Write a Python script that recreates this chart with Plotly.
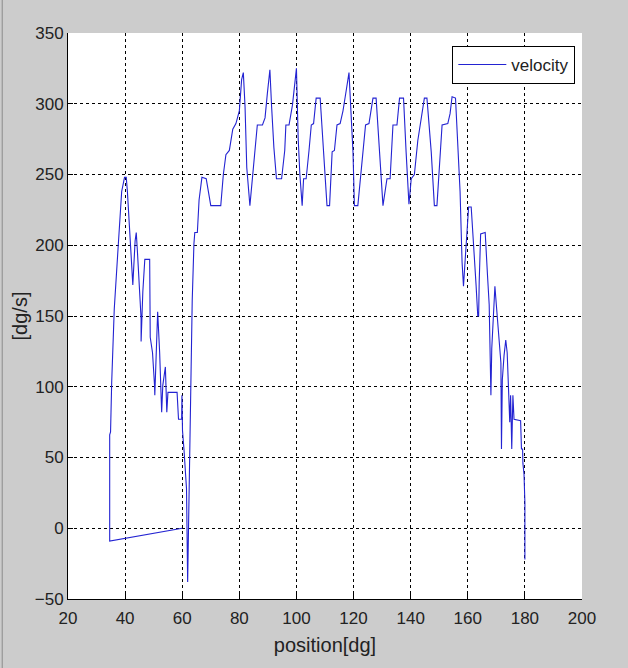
import plotly.graph_objects as go

position = [60.0, 34.6, 34.6, 34.9, 35.3, 36.2, 37.6, 38.8, 39.8, 40.4, 40.8, 41.8, 42.4, 42.7,
            43.5, 43.9, 44.3, 45.0, 45.6, 45.6, 46.2, 46.9, 48.6, 48.8, 49.6, 50.3, 50.4, 51.4,
            52.1, 52.8, 53.2, 54.1, 54.6, 55.0, 58.2, 58.7, 59.8, 59.9, 60.1, 60.6, 61.0, 61.3,
            61.5, 61.9, 62.3, 62.9, 63.5, 64.1, 64.4, 65.3, 65.9, 66.9, 68.4, 70.0, 73.5, 74.4,
            75.3, 76.5, 77.7, 78.8, 80.0, 80.8, 81.4, 82.0, 82.6, 83.7, 84.3, 85.5, 86.3, 88.1,
            89.0, 89.8, 90.7, 91.3, 92.1, 93.0, 94.8, 95.9, 96.3, 97.4, 98.6, 100.0, 100.6, 101.2,
            102.0, 102.5, 103.4, 104.4, 105.2, 106.0, 106.9, 108.3, 109.3, 110.7, 111.6, 112.5,
            113.3, 114.2, 115.3, 116.3, 117.4, 118.4, 119.8, 120.3, 121.5, 123.3, 124.2, 125.4,
            126.8, 127.9, 129.1, 130.3, 131.7, 132.8, 133.8, 135.2, 136.1, 137.5, 138.4, 139.4,
            140.2, 141.3, 142.5, 144.8, 145.7, 147.2, 148.3, 149.2, 151.0, 153.0, 153.8, 154.5,
            155.7, 156.5, 157.3, 158.0, 158.5, 158.9, 159.4, 160.0, 160.3, 161.2, 161.7, 162.3,
            162.9, 163.5, 163.8, 164.0, 164.5, 166.1, 166.3, 166.9, 167.5, 167.7, 168.1, 168.4,
            168.9, 169.5, 170.0, 170.7, 171.6, 171.8, 172.1, 172.7, 173.3, 173.8, 174.2, 174.7,
            175.0, 175.4, 175.8, 176.2, 178.5, 178.8, 179.2, 179.3, 179.7, 180.0, 180.0]

velocity = [0, -9, 66, 68, 103, 155, 200, 238, 248, 248, 238, 200, 177, 172,
            203, 209, 196, 170, 148, 132, 167, 190, 190, 135, 124, 101, 94, 153,
            124, 82, 101, 114, 82, 96, 96, 77, 77, 94, 69, 56, 45, 33,
            28, -38, 18, 99, 161, 201, 209, 209, 232, 248, 247, 228, 228, 250,
            264, 267, 282, 286, 295, 317, 322, 298, 255, 228, 241, 262, 285, 285,
            290, 307, 324, 298, 269, 247, 247, 267, 285, 285, 299, 325, 276, 250,
            228, 247, 247, 267, 285, 286, 304, 304, 274, 228, 228, 266,
            267, 285, 286, 295, 309, 322, 266, 228, 228, 266, 285, 286,
            304, 304, 266, 228, 247, 247, 285, 285, 304, 304, 266, 229,
            247, 250, 274, 304, 304, 266, 228, 228, 285, 286, 293, 305,
            304, 274, 238, 188, 171, 184, 200, 217, 227, 227, 212, 195,
            172, 150, 150, 174, 208, 209, 198, 179, 158, 134, 94, 127,
            153, 171, 158, 141, 117, 56, 105, 122, 133, 124, 94, 75,
            94, 56, 94, 77, 76, 56, 56, 46, 38, 18, -22]

x_ticks = [20, 40, 60, 80, 100, 120, 140, 160, 180, 200]
y_ticks = [-50, 0, 50, 100, 150, 200, 250, 300, 350]

FONT = "Liberation Sans, Arial, sans-serif"
FS = 17

fig = go.Figure()
fig.add_trace(go.Scatter(x=position, y=velocity, mode="lines", name="velocity",
                         line=dict(color="#2323d2", width=1.1)))

common = dict(ticks="inside", ticklen=5, tickcolor="black", tickwidth=1,
              zeroline=False, automargin=False)

fig.update_layout(
    width=628, height=668,
    margin=dict(l=68, r=46, t=33, b=69),
    paper_bgcolor="#cccccc", plot_bgcolor="white",
    font=dict(family=FONT, size=FS, color="#222222"),
    showlegend=True,
    legend=dict(x=0.987, xanchor="right", y=0.977, yanchor="top",
                bgcolor="white", bordercolor="black", borderwidth=1,
                font=dict(family=FONT, size=FS, color="#222222"),
                tracegroupgap=0, itemwidth=48),
    xaxis=dict(range=[20, 200], tickvals=x_ticks, showline=True, linecolor="black",
               linewidth=1, showgrid=True, gridcolor="black", gridwidth=1,
               griddash="3px,3px", ticklabelstandoff=4,
               title=dict(text="position[dg]", standoff=10),
               **common),
    yaxis=dict(range=[-50, 350], tickvals=y_ticks, showline=True, linecolor="black",
               linewidth=1, showgrid=True, gridcolor="black", gridwidth=1,
               griddash="3px,3px", title=dict(text="[dg/s]", standoff=1),
               **common),
    xaxis2=dict(range=[20, 200], tickvals=x_ticks, overlaying="x", side="top",
                anchor="y", showticklabels=False, showgrid=False, showline=False,
                **common),
    yaxis2=dict(range=[-50, 350], tickvals=y_ticks, overlaying="y", side="right",
                anchor="x", showticklabels=False, showgrid=False, showline=False,
                **common),
)

fig.add_shape(type="line", xref="paper", yref="paper", x0=-0.128, x1=-0.128,
              y0=-0.2, y1=1.1, line=dict(color="#8c8c8c", width=1))

fig.write_html("out.html", config={"displayModeBar": False},
               post_script="document.body.style.margin='0';")
